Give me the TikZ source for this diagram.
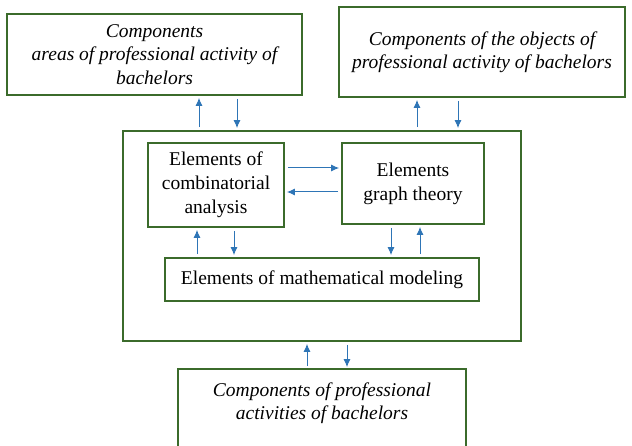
\documentclass[tikz,border=0pt]{standalone}
\usepackage{fontspec}
\setmainfont{Liberation Serif}
\usetikzlibrary{arrows.meta}
\tikzset{>={Latex[width=2.5mm,length=2.8mm]}}
\definecolor{boxgreen}{HTML}{3B6B2B}
\definecolor{linkblue}{HTML}{2E75B6}
\tikzset{
  block/.style={draw=boxgreen, line width=1.8pt, align=center, inner sep=0pt,
    font=\fontsize{19.5}{24}\selectfont},
  iblock/.style={block, font=\fontsize{19.5}{23.5}\selectfont\itshape},
  link/.style={->, linkblue, line width=1pt, shorten <=3pt, shorten >=2pt}
}

\begin{document}
\begin{tikzpicture}[x=1pt,y=-1pt]
  \useasboundingbox (0,0) rectangle (632,446);

  \coordinate (cA) at (154.5,54.5);
  \coordinate (cB) at (482,52);
  \coordinate (cS) at (322,236);
  \coordinate (cC) at (216,185);
  \coordinate (cG) at (413,183.5);
  \coordinate (cM) at (322,279.5);
  \coordinate (cP) at (322,403);

  \node[iblock, minimum width=295pt, minimum height=81pt] (areas) at (cA)
    {Components\\areas of professional activity of\\bachelors};
  \node[iblock, minimum width=286pt, minimum height=90pt] (objects) at (cB)
    {Components of the objects of\\professional activity of bachelors};

  \node[block, minimum width=398pt, minimum height=210pt] (system) at (cS) {};
  \node[block, minimum width=136pt, minimum height=84pt] (comb) at (cC)
    {Elements of\\combinatorial\\analysis};
  \node[block, minimum width=142pt, minimum height=81pt] (graph) at (cG)
    {Elements\\graph theory};
  \node[block, minimum width=314pt, minimum height=43pt] (model) at (cM)
    {Elements of mathematical modeling};

  \node[iblock, draw=none, minimum width=286pt, minimum height=66pt] (activities) at (cP)
    {Components of professional\\activities of bachelors};
  \draw[boxgreen, line width=1.8pt] (activities.north west) rectangle ([yshift=-30pt]activities.south east);

  \draw[link] ([xshift=-123pt]system.north) -- ([xshift=44.5pt]areas.south);
  \draw[link] ([xshift=82.5pt]areas.south) -- ([xshift=-85pt]system.north);

  \draw[link] ([xshift=95pt]system.north) -- ([xshift=-65pt]objects.south);
  \draw[link] ([xshift=-24pt]objects.south) -- ([xshift=136pt]system.north);

  \draw[link] ([yshift=17pt]comb.east) -- ([yshift=15.5pt]graph.west);
  \draw[link] ([yshift=-8.5pt]graph.west) -- ([yshift=-7pt]comb.east);

  \draw[link] ([xshift=-125pt]model.north) -- ([xshift=-19pt]comb.south);
  \draw[link] ([xshift=18pt]comb.south) -- ([xshift=-88pt]model.north);

  \draw[link] ([xshift=-22pt]graph.south) -- ([xshift=69pt]model.north);
  \draw[link] ([xshift=98pt]model.north) -- ([xshift=7pt]graph.south);

  \draw[link] ([xshift=-15pt]activities.north) -- ([xshift=-15pt]system.south);
  \draw[link] ([xshift=25pt]system.south) -- ([xshift=25pt]activities.north);

\end{tikzpicture}
\end{document}
